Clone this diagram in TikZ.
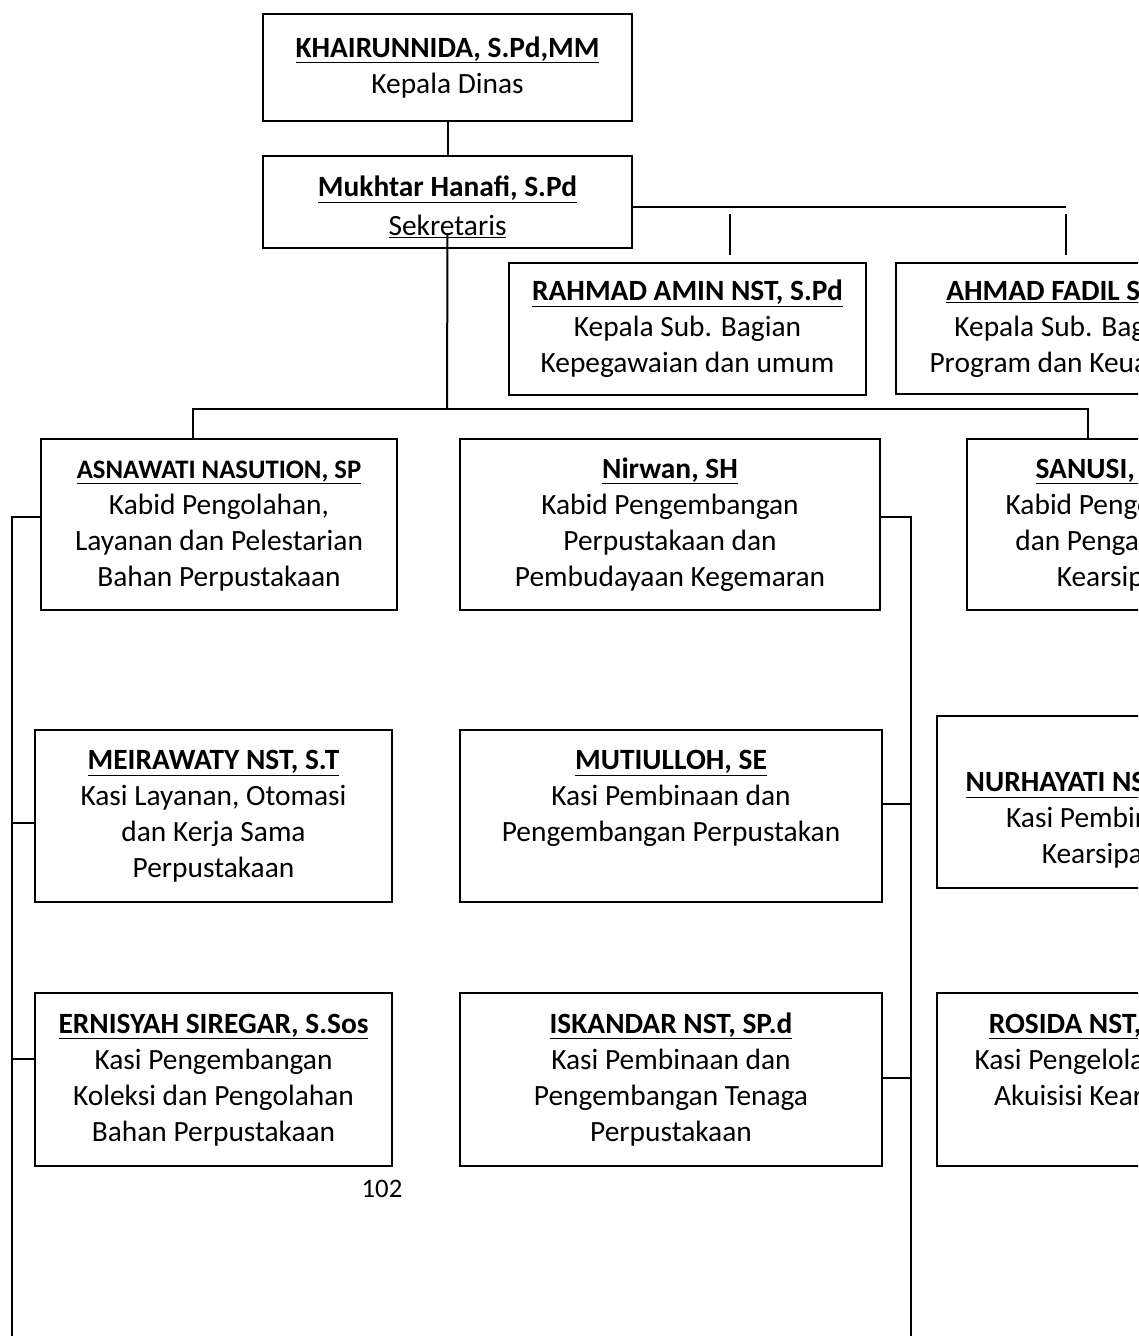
\documentclass[tikz,border=0pt]{standalone}
\usepackage{fontspec}
\setmainfont{Carlito}
\usetikzlibrary{calc}

\begin{document}
\begin{tikzpicture}[
    x=1pt, y=-1pt,
    font=\fontsize{29.4}{36}\selectfont,
    link/.style={line width=2pt, black},
    box/.style={draw, line width=2pt, inner sep=0pt, outer sep=0pt, align=center,
        text depth=10.8pt},
    rows2/.style={text height=62pt},
    rows3/.style={text height=98pt},
    rows4/.style={text height=134pt},
]
\useasboundingbox (0,0) rectangle (1138,1336);
\clip (0,0) rectangle (1138,1336);

% ---- kepala dinas dan sekretaris ----
\node[box, rows2, minimum width=369pt, minimum height=107pt] (kadis) at (447.5,67.5)
    {\textbf{\underline{KHAIRUNNIDA, S.Pd,MM}}\\Kepala Dinas};
\node[box, minimum width=369pt, minimum height=92pt, text height=71pt, text depth=4pt] (sekr) at (447.5,202)
    {\textbf{\underline{Mukhtar Hanafi, S.Pd}}\\[3pt]\underline{Sekretaris}};
\draw[link] (kadis.south) -- (sekr.north);

% ---- kepala sub bagian ----
\node[box, rows3, minimum width=357pt, minimum height=132pt] (sub1) at (687.5,329)
    {\textbf{\underline{RAHMAD AMIN NST, S.Pd}}\\Kepala Sub. Bagian\\Kepegawaian dan umum};
\node[box, rows3, minimum width=344pt, minimum height=131pt] (sub2) at (1068,328.5)
    {\textbf{\underline{AHMAD FADIL S.Sos}}\\Kepala Sub. Bagian\\Program dan Keuangan};
\coordinate (ujung) at (1066,207);
\draw[link] ([yshift=-5pt]sekr.east) -- (ujung);
\draw[link] ([xshift=42.5pt,yshift=8pt]sub1.north) -- ++(0,-41);
\draw[link] ([xshift=-2pt,yshift=8pt]sub2.north) -- ++(0,-41);

% ---- kepala bidang ----
\node[box, rows4, minimum width=356pt, minimum height=171pt] (bid1) at (219,524.5)
    {{\fontsize{26.7}{36}\selectfont\textbf{\underline{ASNAWATI NASUTION, SP}}}\\Kabid Pengolahan,\\
     Layanan dan Pelestarian\\Bahan Perpustakaan};
\node[box, rows4, minimum width=420pt, minimum height=171pt] (bid2) at (670,524.5)
    {\textbf{\underline{Nirwan, SH}}\\Kabid Pengembangan\\Perpustakaan dan\\Pembudayaan Kegemaran};
\node[box, rows4, minimum width=296pt, minimum height=171pt] (bid3) at (1115,524.5)
    {\textbf{\underline{SANUSI, S.Pd}}\\Kabid Pengelolaan\\dan Pengawasan\\Kearsipan};
\coordinate (bus) at (447,409);
\draw[link] ([yshift=-31pt]sekr.center) -- (bus);
\draw[link] ([xshift=-26pt]bid1.north) |- (bus) -| ([xshift=-27pt]bid3.north);

% ---- kepala seksi ----
\node[box, rows4, minimum width=357pt, minimum height=172pt] (si11) at (213.5,816)
    {\textbf{\underline{MEIRAWATY NST, S.T}}\\Kasi Layanan, Otomasi\\dan Kerja Sama\\Perpustakaan};
\node[box, rows4, minimum width=422pt, minimum height=172pt] (si21) at (671,816)
    {\textbf{\underline{MUTIULLOH, SE}}\\Kasi Pembinaan dan\\Pengembangan Perpustakan\\\mbox{}};
\node[box, rows4, minimum width=326pt, minimum height=172pt] (si31) at (1100,802)
    {\mbox{}\\\textbf{\underline{NURHAYATI NST, S.Sos}}\\Kasi Pembinaan\\Kearsipan};
\node[box, rows4, minimum width=357pt, minimum height=173pt] (si12) at (213.5,1079.5)
    {\textbf{\underline{ERNISYAH SIREGAR, S.Sos}}\\Kasi Pengembangan\\Koleksi dan Pengolahan\\Bahan Perpustakaan};
\node[box, rows4, minimum width=422pt, minimum height=173pt] (si22) at (671,1079.5)
    {\textbf{\underline{ISKANDAR NST, SP.d}}\\Kasi Pembinaan dan\\Pengembangan Tenaga\\Perpustakaan};
\node[box, rows4, minimum width=326pt, minimum height=173pt] (si32) at (1100,1079.5)
    {\textbf{\underline{ROSIDA NST, S.Sos}}\\Kasi Pengelolaan dan\\Akuisisi Kearsipan\\\mbox{}};

% garis samping
\coordinate (kiri) at (12,1336);
\coordinate (kanan) at (911,1336);
\draw[link] ([yshift=7.5pt]bid1.west) -| (kiri);
\draw[link] ([yshift=-7pt]si11.west) -| (kiri);
\draw[link] ([yshift=20.5pt]si12.west) -| (kiri);
\draw[link] ([yshift=7.5pt]bid2.east) -| (kanan);
\draw[link] ([yshift=12pt]si21.east) -| (kanan);
\draw[link] ([yshift=1.5pt]si22.east) -| (kanan);

\node[font=\fontsize{26.7}{32}\selectfont] (hal) at (382,1189) {102};

\end{tikzpicture}
\end{document}
